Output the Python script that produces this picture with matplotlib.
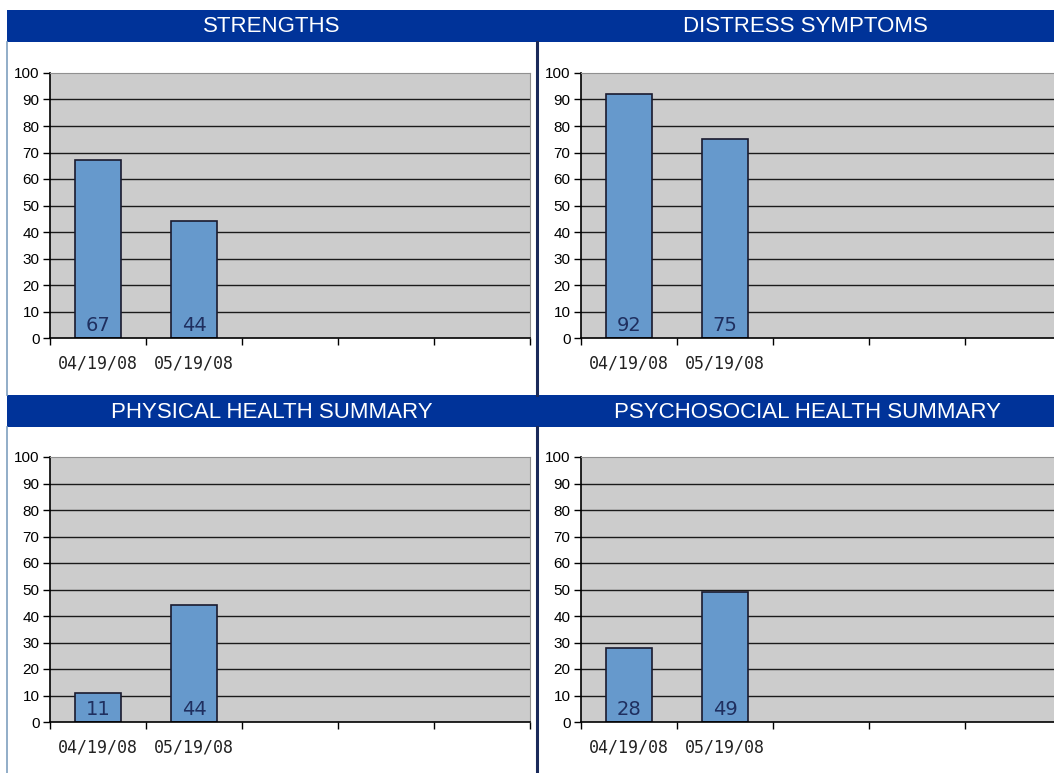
import matplotlib

matplotlib.use("Agg")

import matplotlib.pyplot as plt
from matplotlib.patches import Rectangle
from matplotlib.lines import Line2D

# data
dates = ["04/19/08", "05/19/08", "", "", ""]
titles = ["STRENGTHS", "DISTRESS SYMPTOMS", "PHYSICAL HEALTH SUMMARY", "PSYCHOSOCIAL HEALTH SUMMARY"]
strengths = [67, 44]
distress = [92, 75]
physical = [11, 44]
psychosocial = [28, 49]
y_ticks = [0, 10, 20, 30, 40, 50, 60, 70, 80, 90, 100]

W, H = 1054, 773
HEADER = "#003399"
BAR = "#6699CC"
PLOT_BG = "#CCCCCC"


def fx(x):
    return x / W


def fy(y):
    return 1 - y / H


def draw_panel(fig, rect, title_xy, title, values):
    left, top, right, bottom = rect
    ax = fig.add_axes([fx(left), fy(bottom), fx(right - left), (bottom - top) / H])
    ax.set_facecolor(PLOT_BG)
    ax.set_xlim(-0.5, len(dates) - 0.5)
    ax.set_ylim(0, 100)
    for v in y_ticks[1:-1]:
        ax.axhline(v, color="#1a1a1a", lw=1.0, zorder=1)
    xs = list(range(len(values)))
    ax.bar(xs, values, width=0.48, color=BAR, edgecolor="#1a1a2e", linewidth=1.2, zorder=2)
    for x, v in zip(xs, values):
        ax.annotate(str(v), (x, 0), xytext=(0, 5), textcoords="offset points",
                    ha="center", va="baseline", fontsize=14, color="#1f2f5f", zorder=3)
    ax.set_yticks(y_ticks)
    ax.set_yticklabels([str(v) for v in y_ticks], fontfamily="Liberation Sans", fontsize=11)
    ax.set_xticks(range(len(dates)))
    ax.set_xticklabels(dates, fontfamily="DejaVu Sans Mono", fontsize=12, color="#222222")
    ax.set_xticks([i - 0.5 for i in range(len(dates) + 1)], minor=True)
    ax.tick_params(axis="x", which="major", length=0, pad=12)
    ax.tick_params(axis="x", which="minor", length=5, width=1, color="black")
    ax.tick_params(axis="y", length=5, width=1, pad=2.5, color="black")
    for side in ("top", "right"):
        ax.spines[side].set_color("#909090")
    for side in ("left", "bottom"):
        ax.spines[side].set_color("black")
        ax.spines[side].set_linewidth(1.2)
    fig.text(fx(title_xy[0]), fy(title_xy[1]), title, ha="center", va="center",
             color="white", fontsize=16, fontfamily="Liberation Sans")
    return ax


fig = plt.figure(figsize=(W / 100, H / 100), dpi=100)

# header bands
for y0, y1 in [(10, 42), (395, 427)]:
    fig.patches.append(Rectangle((fx(7), fy(y1)), fx(W - 7), (y1 - y0) / H,
                                 transform=fig.transFigure, facecolor=HEADER, edgecolor="none"))

# frame lines
for y0, y1 in [(42, 395), (427, 773)]:
    fig.lines.append(Line2D([fx(7), fx(7)], [fy(y0), fy(y1)], transform=fig.transFigure,
                            color="#7f9fbf", lw=1.2))
    fig.lines.append(Line2D([fx(537), fx(537)], [fy(y0), fy(y1)], transform=fig.transFigure,
                            color="#1a2a5a", lw=2.2))

draw_panel(fig, (50, 73, 530, 338), (272, 27), titles[0], strengths)
draw_panel(fig, (581, 73, 1061, 338), (805, 27), titles[1], distress)
draw_panel(fig, (50, 457, 530, 722), (272, 412), titles[2], physical)
draw_panel(fig, (581, 457, 1061, 722), (807, 412), titles[3], psychosocial)

fig.savefig("out.png", dpi=100)
